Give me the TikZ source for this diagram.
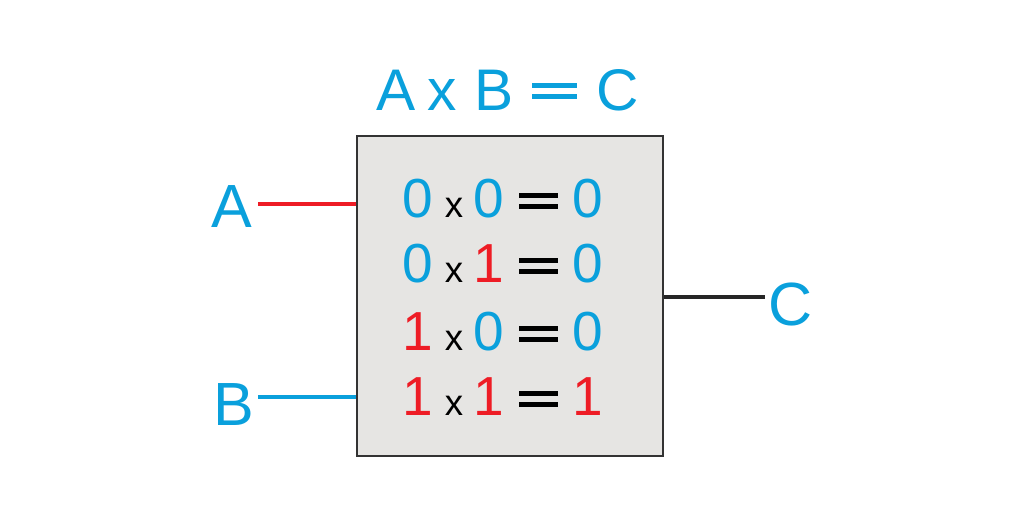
\documentclass[tikz,border=0pt]{standalone}
\usepackage{fontspec}
\setmainfont{Liberation Sans}
\definecolor{cblue}{HTML}{0AA0DC}
\definecolor{cred}{HTML}{EE1C25}
\definecolor{cbox}{HTML}{E6E5E3}
\definecolor{cedge}{HTML}{333333}
\begin{document}
\begin{tikzpicture}[x=1pt,y=-1pt,
  lab/.style={inner sep=0pt,anchor=base,text=cblue,font=\fontsize{61}{70}\selectfont},
  ttl/.style={inner sep=0pt,anchor=base,text=cblue,font=\fontsize{58.7}{66}\selectfont},
  dig/.style={inner sep=0pt,anchor=base,font=\fontsize{55}{62}\selectfont},
  tim/.style={inner sep=0pt,anchor=base,text=black,font=\fontsize{36.6}{42}\selectfont},
  bar/.style={line width=5pt,line cap=butt},
  wire/.style={line width=3.6pt}]
\useasboundingbox (0,0) rectangle (1024,512);
% box
\node (box) [draw=cedge,line width=2pt,fill=cbox,minimum width=306pt,minimum height=320pt,inner sep=0pt] at (510,296) {};
% title
\node[ttl] (tA) at (396.5,110) {A};
\node[ttl] (tx) at (442.5,110) {x};
\node[ttl] (tB) at (494,110) {B};
\draw[bar,cblue] (532,85.5) -- (577,85.5);
\draw[bar,cblue] (532,96.5) -- (577,96.5);
\node[ttl] (tC) at (617.5,110) {C};
% side labels
\node[lab] (lA) at (231.5,227) {A};
\node[lab] (lB) at (234,425) {B};
\node[lab] (lC) at (791,325) {C};
\coordinate (wa) at (258,204);
\coordinate (wb) at (258,397);
\coordinate (wc) at (765,297);
\draw[wire,cred] (wa) -- (wa -| box.west);
\draw[wire,cblue] (wb) -- (wb -| box.west);
\draw[wire,black!85] (wc -| box.east) -- (wc);
% rows
\foreach \y/\a/\ca/\b/\cb/\c/\cc [count=\i] in {217/0/cblue/0/cblue/0/cblue, 282/0/cblue/1/cred/0/cblue, 350/1/cred/0/cblue/0/cblue, 415/1/cred/1/cred/1/cred}{
  \node[dig,text=\ca] (r\i a) at (418,\y) {\a};
  \node[tim] (r\i x) at (454,\y) {x};
  \node[dig,text=\cb] (r\i b) at (489,\y) {\b};
  \draw[bar,black] (519,\y-21.5) -- (558,\y-21.5);
  \draw[bar,black] (519,\y-11) -- (558,\y-11);
  \node[dig,text=\cc] (r\i c) at (588,\y) {\c};
}
\end{tikzpicture}
\end{document}
